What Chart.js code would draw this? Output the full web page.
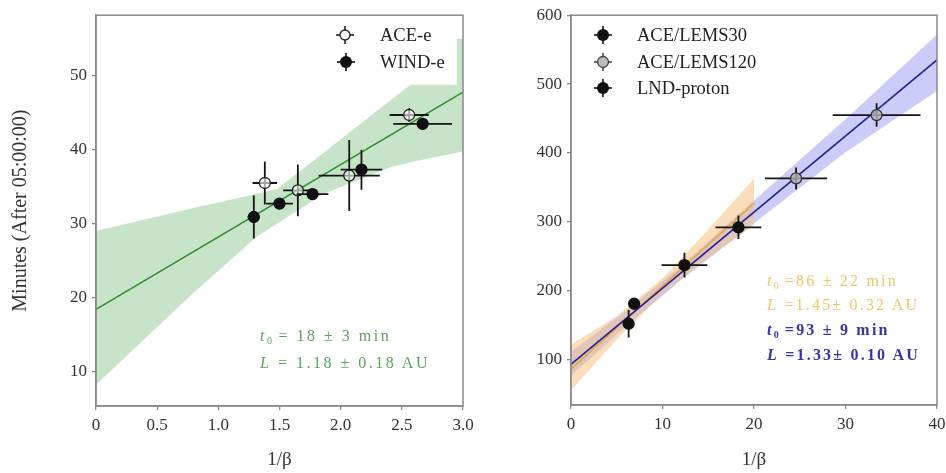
<!DOCTYPE html>
<html>
<head>
<meta charset="utf-8">
<title>Onset time vs 1/beta</title>
<script src="https://cdn.jsdelivr.net/npm/chart.js@4.4.1/dist/chart.umd.min.js"></script>
<style>
  html, body { margin: 0; padding: 0; background: #fff; width: 946px; height: 473px; overflow: hidden; font-family: "Liberation Serif", serif; }
  canvas { position: absolute; top: 0; }
  #leftChart { left: 0; }
  #rightChart { left: 480px; }
  .lg { position: absolute; font-size: 18.5px; color: #222; line-height: 22px; white-space: nowrap; }
  .mk { position: absolute; }
  .note { position: absolute; font-size: 16px; line-height: 18px; white-space: nowrap; letter-spacing: 2.5px; }
  .note.r { letter-spacing: 2.2px; }
  .note sub { font-size: 10px; vertical-align: -3px; letter-spacing: 0; }
</style>
</head>
<body>
<canvas id="leftChart" width="480" height="473"></canvas>
<canvas id="rightChart" width="480" height="473"></canvas>

<!-- legends -->
<svg class="mk" style="left:334px;top:24px" width="22" height="22"><line x1="2" y1="11" x2="20" y2="11" stroke="#222" stroke-width="1.6"/><line x1="11" y1="2" x2="11" y2="20" stroke="#222" stroke-width="1.6"/><circle cx="11" cy="11" r="5" fill="#fff" stroke="#222" stroke-width="1.3"/></svg>
<div class="lg" style="left:380px;top:24px">ACE-e</div>
<svg class="mk" style="left:335px;top:51px" width="22" height="22"><line x1="2" y1="11" x2="20" y2="11" stroke="#111" stroke-width="1.6"/><line x1="11" y1="2" x2="11" y2="20" stroke="#111" stroke-width="1.6"/><circle cx="11" cy="11" r="6" fill="#111"/></svg>
<div class="lg" style="left:380px;top:51px">WIND-e</div>

<svg class="mk" style="left:592px;top:24px" width="22" height="22"><line x1="2" y1="11" x2="20" y2="11" stroke="#111" stroke-width="1.6"/><line x1="11" y1="2" x2="11" y2="20" stroke="#111" stroke-width="1.6"/><circle cx="11" cy="11" r="6" fill="#111"/></svg>
<div class="lg" style="left:637px;top:24px">ACE/LEMS30</div>
<svg class="mk" style="left:592px;top:51px" width="22" height="22"><line x1="2" y1="11" x2="20" y2="11" stroke="#444" stroke-width="1.6"/><line x1="11" y1="2" x2="11" y2="20" stroke="#444" stroke-width="1.6"/><circle cx="11" cy="11" r="5.5" fill="#bbb" stroke="#444" stroke-width="1.3"/></svg>
<div class="lg" style="left:637px;top:51px">ACE/LEMS120</div>
<svg class="mk" style="left:592px;top:77px" width="22" height="22"><line x1="2" y1="11" x2="20" y2="11" stroke="#111" stroke-width="1.6"/><line x1="11" y1="2" x2="11" y2="20" stroke="#111" stroke-width="1.6"/><circle cx="11" cy="11" r="6" fill="#111"/></svg>
<div class="lg" style="left:637px;top:77px">LND-proton</div>

<!-- fit results -->
<div class="note" style="left:260px;top:327px;color:#5aa45a"><i>t</i><sub>0</sub> = 18 ± 3 min</div>
<div class="note" style="left:260px;top:354px;color:#5aa45a"><i>L</i> = 1.18 ± 0.18 AU</div>
<div class="note r" style="left:767px;top:272px;color:#f0c36a"><i>t</i><sub>0</sub> =86 ± 22 min</div>
<div class="note r" style="left:767px;top:296px;color:#f0c36a"><i>L</i> =1.45± 0.32 AU</div>
<div class="note r" style="left:767px;top:321px;color:#3535a8;font-weight:bold"><i>t</i><sub>0</sub> =93 ± 9 min</div>
<div class="note r" style="left:767px;top:346px;color:#3535a8;font-weight:bold"><i>L</i> =1.33± 0.10 AU</div>

<script>
// ---- Left panel data (electrons) ----
const aceX = [1.38, 1.65, 2.07, 2.56];
const aceY = [35.5, 34.5, 36.5, 44.7];
const aceXErr = [0.10, 0.12, 0.25, 0.16];
const aceYErr = [2.9, 3.5, 4.8, 0.9];

const windX = [1.29, 1.50, 1.77, 2.17, 2.67];
const windY = [30.9, 32.7, 34.0, 37.3, 43.5];
const windXErr = [0.05, 0.11, 0.13, 0.17, 0.24];
const windYErr = [2.9, 0.5, 0.5, 2.7, 0.8];

const greenFitX = [0, 3.0];
const greenFitY = [18.4, 47.8];
const greenBandX = [0, 0.77, 1.31, 1.48, 1.86, 2.40, 2.57, 2.95, 2.95, 3.0];
const greenBandHi = [29.0, 32.0, 34.0, 34.7, 39.6, 46.6, 48.8, 48.8, 55.0, 55.0];
const greenBandLo = [8.2, 20.2, 28.2, 30.0, 34.0, 37.6, 38.3, 39.6, 39.6, 39.8];

// ---- Right panel data (protons) ----
const lems30X = [6.3, 6.9];
const lems30Y = [152, 181];
const lems30XErr = [0.2, 0.2];
const lems30YErr = [20, 6];

const lems120X = [24.6, 33.4];
const lems120Y = [363, 455];
const lems120XErr = [3.4, 4.8];
const lems120YErr = [16, 17];

const lndX = [12.4, 18.3];
const lndY = [237, 292];
const lndXErr = [2.5, 2.5];
const lndYErr = [18, 17];

const blueFitX = [0, 40];
const blueFitY = [93, 535];
const blueBandX = [0, 6, 12, 20, 30, 40];
const blueBandHi = [111, 171, 236, 331, 449, 572];
const blueBandLo = [77, 148, 215, 298, 401, 490];

const orangeFitX = [0, 20];
const orangeFitY = [86, 327];
const orangeBandX = [0, 5, 10, 15, 20];
const orangeBandHi = [122, 163, 218, 289, 363];
const orangeBandLo = [55, 129, 196, 247, 295];

// tick labels
const leftXTicks = ['0', '0.5', '1.0', '1.5', '2.0', '2.5', '3.0'];

const FONT = '"Liberation Serif", serif';
const AXIS_GREY = '#8a8a8a';

function toPoints(xs, ys) {
    return xs.map((x, i) => ({ x: x, y: ys[i] }));
}

// Error bars drawn just before each point dataset
const errorBars = {
    id: 'errorBars',
    beforeDatasetDraw(chart, args) {
        const ds = chart.data.datasets[args.index];
        if (!ds.errX && !ds.errY) return;
        const { ctx, scales: { x, y } } = chart;
        ctx.save();
        ctx.strokeStyle = '#151515';
        ctx.lineWidth = 1.8;
        ds.data.forEach((p, i) => {
            const px = x.getPixelForValue(p.x);
            const py = y.getPixelForValue(p.y);
            ctx.beginPath();
            if (ds.errX) {
                ctx.moveTo(x.getPixelForValue(p.x - ds.errX[i]), py);
                ctx.lineTo(x.getPixelForValue(p.x + ds.errX[i]), py);
            }
            if (ds.errY) {
                ctx.moveTo(px, y.getPixelForValue(p.y - ds.errY[i]));
                ctx.lineTo(px, y.getPixelForValue(p.y + ds.errY[i]));
            }
            ctx.stroke();
        });
        ctx.restore();
    }
};

// Full box around the plot area
const frame = {
    id: 'frame',
    afterDraw(chart) {
        const { ctx, chartArea: a } = chart;
        ctx.save();
        ctx.strokeStyle = AXIS_GREY;
        ctx.lineWidth = 1.5;
        ctx.strokeRect(a.left, a.top, a.right - a.left, a.bottom - a.top);
        ctx.restore();
    }
};

function pointSet(xs, ys, xe, ye, fill, edge) {
    return {
        data: toPoints(xs, ys), errX: xe, errY: ye, order: 0,
        pointRadius: 5.5, pointBackgroundColor: fill, pointBorderColor: edge, pointBorderWidth: 1.3,
        showLine: false
    };
}

function lineSet(xs, ys, color, order) {
    return { data: toPoints(xs, ys), showLine: true, pointRadius: 0, borderColor: color, borderWidth: 1.6, order: order || 1 };
}

// upper edge filled down to the lower edge; higher order is drawn further back
function bandSets(xs, hi, lo, color, order) {
    return [
        { data: toPoints(xs, hi), showLine: true, pointRadius: 0, borderWidth: 0, borderColor: 'transparent', backgroundColor: color, fill: '+1', order: order },
        { data: toPoints(xs, lo), showLine: true, pointRadius: 0, borderWidth: 0, borderColor: 'transparent', fill: false, order: order }
    ];
}

function axisCommon() {
    return {
        type: 'linear',
        grid: { drawOnChartArea: false, drawTicks: true, tickLength: 4, color: AXIS_GREY, lineWidth: 1.3 },
        border: { color: AXIS_GREY, width: 1.5 },
        ticks: { color: '#333', font: { family: FONT, size: 17 }, includeBounds: false }
    };
}

function makeChart(id, cfg) {
    const xAxis = axisCommon();
    Object.assign(xAxis, { min: cfg.xMin, max: cfg.xMax, afterFit: s => { s.height = cfg.xHeight; } });
    xAxis.ticks.stepSize = cfg.xStep;
    xAxis.ticks.padding = 5;
    if (cfg.xLabel) xAxis.ticks.callback = cfg.xLabel;
    xAxis.title = { display: true, text: '1/β', color: '#333', font: { family: FONT, size: 19 }, padding: { top: 4, bottom: 2 } };

    const yAxis = axisCommon();
    Object.assign(yAxis, { min: cfg.yMin, max: cfg.yMax, afterFit: s => { s.width = cfg.yWidth; } });
    yAxis.ticks.stepSize = cfg.yStep;
    yAxis.ticks.padding = 5;
    if (cfg.yTitle) {
        yAxis.title = { display: true, text: cfg.yTitle, color: '#333', font: { family: FONT, size: 20 }, padding: { top: 9, bottom: 4 } };
    }

    return new Chart(document.getElementById(id), {
        type: 'scatter',
        data: { datasets: cfg.datasets },
        options: {
            responsive: false,
            animation: false,
            events: [],
            layout: { padding: cfg.padding },
            plugins: { legend: { display: false }, tooltip: { enabled: false } },
            scales: { x: xAxis, y: yAxis }
        },
        plugins: [errorBars, frame]
    });
}

makeChart('leftChart', {
    xMin: 0, xMax: 3.0, xStep: 0.5, yMin: 5.33, yMax: 58.2, yStep: 10,
    xLabel: (v, i) => leftXTicks[i],
    yTitle: 'Minutes (After 05:00:00)',
    yWidth: 96, xHeight: 67,
    padding: { left: 0, top: 10, right: 17, bottom: 0 },
    datasets: [
        pointSet(windX, windY, windXErr, windYErr, '#111', '#111'),
        pointSet(aceX, aceY, aceXErr, aceYErr, 'rgba(255,255,255,0.6)', '#222'),
        lineSet(greenFitX, greenFitY, '#2f8f2f'),
        ...bandSets(greenBandX, greenBandHi, greenBandLo, 'rgba(110,185,110,0.38)', 2)
    ]
});

makeChart('rightChart', {
    xMin: 0, xMax: 40, xStep: 10, yMin: 34, yMax: 600, yStep: 100,
    yWidth: 91, xHeight: 68,
    padding: { left: 0, top: 12, right: 23, bottom: 0 },
    datasets: [
        pointSet(lems30X, lems30Y, lems30XErr, lems30YErr, '#111', '#111'),
        pointSet(lndX, lndY, lndXErr, lndYErr, '#111', '#111'),
        pointSet(lems120X, lems120Y, lems120XErr, lems120YErr, 'rgba(180,180,180,0.8)', '#333'),
        lineSet(blueFitX, blueFitY, '#24249a', 1),
        lineSet(orangeFitX, orangeFitY, '#e7a64a', 1.5),
        ...bandSets(blueBandX, blueBandHi, blueBandLo, 'rgba(120,120,240,0.38)', 3),
        ...bandSets(orangeBandX, orangeBandHi, orangeBandLo, 'rgba(245,190,120,0.5)', 2)
    ]
});
</script>
</body>
</html>
